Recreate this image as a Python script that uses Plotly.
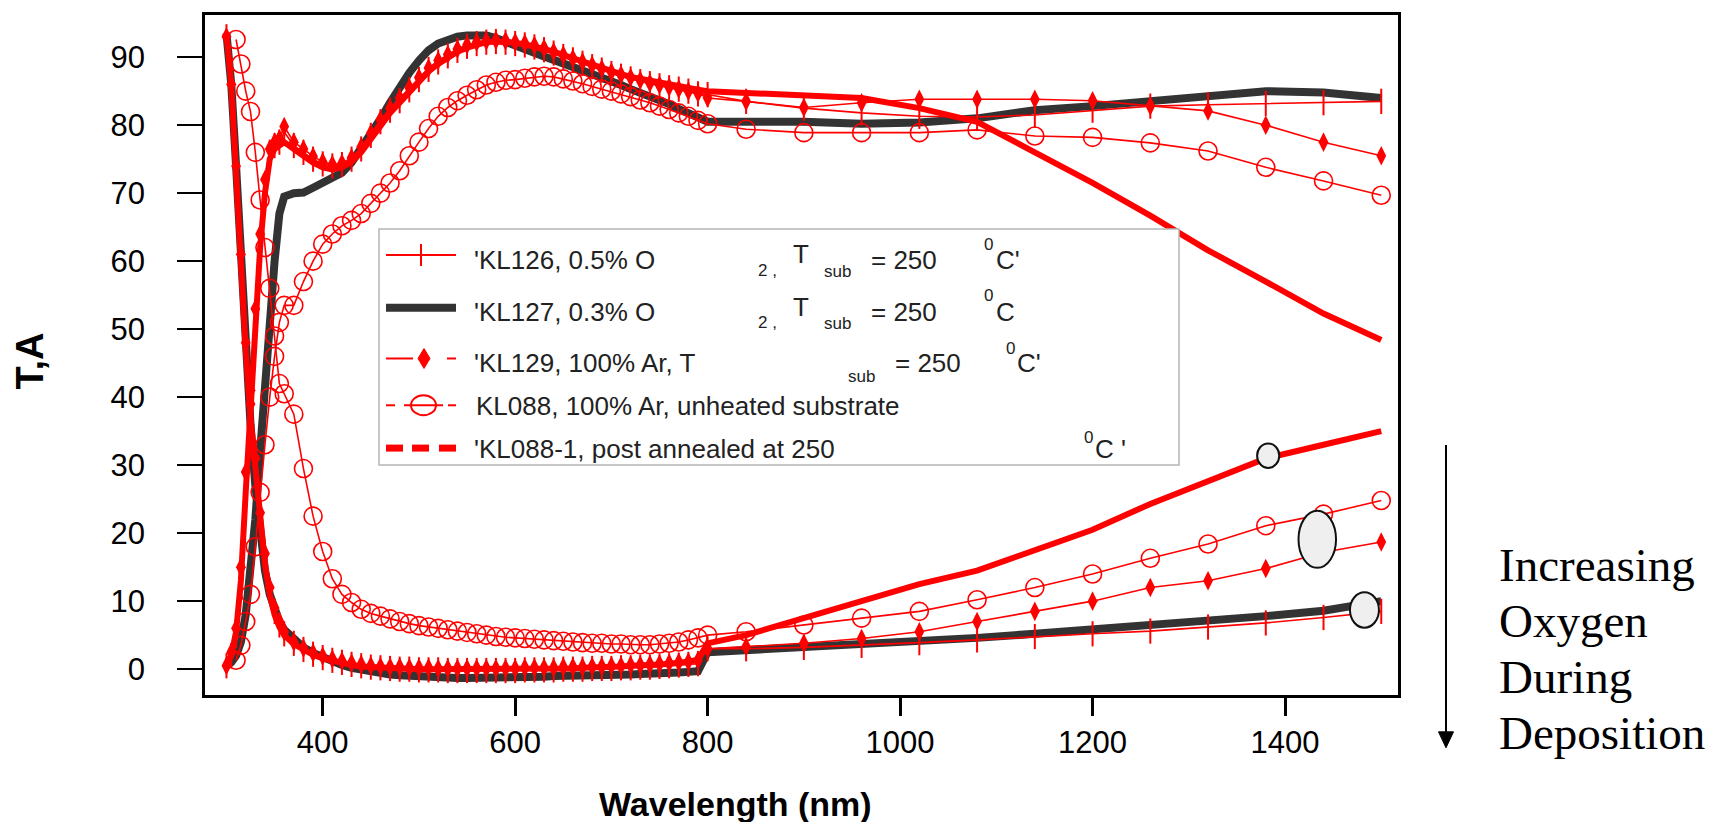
import plotly.graph_objects as go

# ---------------- data ----------------
wl_vis = [300, 305, 310, 315, 320, 325, 330, 335, 340, 345, 350, 355, 360,
          370, 380, 390, 400, 410, 420, 430, 440, 450,
          460, 470, 480, 490, 500, 510, 520, 530, 540, 550,
          560, 570, 580, 590, 600, 610, 620, 630, 640, 650,
          660, 670, 680, 690, 700, 710, 720, 730, 740, 750,
          760, 770, 780, 790]
wl_nir = [800, 840, 900, 960, 1020, 1080, 1140, 1200, 1260, 1320, 1380, 1440, 1500]

# KL127 (0.3% O2) - thick dark line
kl127_T_vis = [0.5, 1.0, 2.0, 4.0, 8.0, 14.0, 22.0, 32.0, 42.0, 50.0, 60.0, 67.0, 69.5,
               70.0, 70.1, 70.8, 71.6, 72.2, 73.0, 74.5, 76.5, 78.7,
               80.9, 83.3, 85.6, 87.7, 89.5, 91.0, 92.0, 92.6, 93.0, 93.2,
               93.3, 93.2, 92.8, 92.2, 91.6, 91.1, 90.6, 90.1, 89.6, 89.1,
               88.6, 88.1, 87.7, 87.1, 86.5, 85.9, 85.3, 84.8, 84.2, 83.6,
               83.1, 82.4, 81.7, 81.0]
kl127_T_nir = [80.5, 80.5, 80.5, 80.2, 80.4, 81.0, 82.2, 82.8, 83.6, 84.3, 85.0, 84.8, 84.0]
kl127_A_vis = [93.5, 86.0, 74.0, 60.0, 47.0, 36.0, 27.0, 20.0, 14.5, 11.0, 8.5, 7.0, 5.8,
               4.3, 3.2, 2.4, 1.7, 1.1, 0.6, 0.2, -0.1, -0.4,
               -0.6, -0.8, -0.9, -1.0, -1.1, -1.2, -1.3, -1.3, -1.3, -1.3,
               -1.3, -1.3, -1.2, -1.2, -1.2, -1.1, -1.1, -1.1, -1.0, -1.0,
               -1.0, -0.9, -0.9, -0.9, -0.8, -0.8, -0.8, -0.7, -0.7, -0.6,
               -0.6, -0.5, -0.4, -0.3]
kl127_A_nir = [2.5, 2.8, 3.0, 3.5, 4.0, 4.6, 5.2, 5.8, 6.5, 7.0, 7.8, 8.6, 10.0]

# KL088-1 (post annealed) - thick red
kl0881_T_vis = [0.5, 2.0, 5.5, 13.0, 26.0, 39.0, 51.0, 62.0, 70.0, 75.0, 76.5, 77.0, 77.5,
                76.5, 75.5, 74.5, 73.8, 73.5, 73.8, 74.6, 76.0, 78.0,
                80.0, 81.8, 83.3, 84.9, 86.4, 87.9, 89.0, 90.0, 90.8, 91.4,
                91.9, 92.2, 92.3, 92.3, 92.1, 91.9, 91.6, 91.2, 90.8, 90.3,
                89.8, 89.3, 88.8, 88.3, 87.9, 87.5, 87.1, 86.8, 86.5, 86.2,
                86.0, 85.7, 85.5, 85.2]
kl0881_T_nir = [85.0, 84.8, 84.5, 84.0, 82.5, 80.5, 76.0, 71.5, 66.7, 61.6, 57.0, 52.3, 48.4]
kl0881_A_vis = [93.5, 86.0, 73.0, 59.0, 47.0, 37.0, 29.0, 21.5, 15.5, 11.0, 8.0, 6.2, 5.0,
                3.7, 2.8, 2.1, 1.6, 1.2, 0.9, 0.6, 0.4, 0.3,
                0.2, 0.1, 0.1, 0.0, 0.0, 0.0, 0.0, -0.1, -0.1, -0.1,
                -0.1, -0.1, -0.1, -0.1, 0.0, 0.0, 0.0, 0.0, 0.1, 0.1,
                0.1, 0.2, 0.2, 0.3, 0.3, 0.4, 0.5, 0.5, 0.6, 0.7,
                0.8, 0.9, 1.1, 1.4]
kl0881_A_nir = [3.8, 5.0, 7.5, 10.0, 12.5, 14.5, 17.5, 20.5, 24.3, 27.7, 31.0, 33.0, 35.0]

# KL088 (unheated) - open circles, starts at 310 nm
kl088_T_vis = [1.3, 3.5, 7.0, 11.0, 18.0, 26.0, 33.0, 40.0, 46.0, 51.0, 53.5,
               53.5, 57.0, 60.0, 62.5, 64.0, 65.2, 66.0, 67.0, 68.5,
               70.0, 71.5, 73.3, 75.5, 77.5, 79.5, 81.3, 82.6, 83.6, 84.4,
               85.2, 85.9, 86.3, 86.6, 86.7, 86.9, 87.1, 87.2, 87.1, 86.8,
               86.5, 86.1, 85.7, 85.3, 85.0, 84.6, 84.2, 83.7, 83.3, 82.8,
               82.3, 81.8, 81.3, 80.7]
kl088_T_nir = [80.2, 79.4, 78.9, 78.9, 78.9, 79.3, 78.4, 78.2, 77.4, 76.2, 73.8, 71.8, 69.7]
kl088_A_vis = [92.6, 89.0, 85.0, 82.0, 76.0, 69.0, 62.0, 56.0, 49.0, 42.0, 40.5,
               37.5, 29.5, 22.5, 17.3, 13.3, 11.0, 9.8, 8.8, 8.2,
               7.8, 7.4, 7.0, 6.7, 6.4, 6.2, 6.0, 5.8, 5.6, 5.4,
               5.2, 5.0, 4.8, 4.7, 4.6, 4.5, 4.4, 4.3, 4.2, 4.1,
               4.0, 3.9, 3.8, 3.8, 3.7, 3.7, 3.6, 3.6, 3.6, 3.7,
               3.8, 4.0, 4.3, 4.6]
kl088_A_nir = [5.0, 5.5, 6.5, 7.5, 8.5, 10.2, 12.0, 14.0, 16.3, 18.4, 21.1, 22.8, 24.8]

# KL129 (100% Ar, 250 C) - diamonds
kl129_T_vis = [0.5, 2.5, 6.0, 15.0, 29.0, 41.0, 53.0, 64.0, 72.0, 76.5, 77.5, 78.0, 79.8,
               77.5, 76.5, 75.4, 74.6, 74.2, 74.4, 75.2, 76.8, 78.8,
               80.8, 82.5, 84.0, 85.5, 87.0, 88.4, 89.5, 90.4, 91.2, 91.8,
               92.2, 92.4, 92.5, 92.4, 92.2, 92.0, 91.7, 91.3, 90.8, 90.3,
               89.8, 89.3, 88.8, 88.3, 87.8, 87.4, 87.0, 86.6, 86.2, 85.9,
               85.6, 85.3, 85.0, 84.7]
kl129_T_nir = [84.0, 83.5, 82.6, 83.3, 83.8, 83.8, 83.8, 83.6, 82.8, 82.1, 80.0, 77.5, 75.5]
kl129_A_vis = [93.0, 86.0, 74.0, 61.0, 48.0, 39.0, 31.0, 23.0, 17.0, 12.0, 9.0, 7.0, 5.5,
               4.0, 3.1, 2.4, 1.9, 1.5, 1.2, 0.9, 0.7, 0.5,
               0.4, 0.3, 0.3, 0.2, 0.2, 0.2, 0.1, 0.1, 0.1, 0.1,
               0.1, 0.1, 0.1, 0.1, 0.1, 0.2, 0.2, 0.2, 0.2, 0.3,
               0.3, 0.3, 0.4, 0.4, 0.5, 0.5, 0.6, 0.6, 0.7, 0.8,
               0.9, 1.0, 1.1, 1.3]
kl129_A_nir = [3.0, 3.3, 3.8, 4.5, 5.5, 7.0, 8.5, 10.0, 12.0, 13.0, 14.8, 17.2, 18.7]

# KL126 (0.5% O2) - plus ticks
kl126_T_vis = [0.5, 2.0, 5.0, 14.0, 28.0, 40.0, 52.0, 63.0, 71.0, 76.0, 77.0, 77.5, 79.0,
               77.0, 76.0, 75.0, 74.3, 74.0, 74.2, 75.0, 76.5, 78.5,
               80.5, 82.2, 83.6, 85.2, 86.7, 88.2, 89.3, 90.2, 91.0, 91.6,
               92.0, 92.2, 92.3, 92.2, 92.0, 91.8, 91.5, 91.1, 90.6, 90.1,
               89.6, 89.1, 88.6, 88.1, 87.6, 87.2, 86.8, 86.4, 86.1, 85.8,
               85.5, 85.3, 85.0, 84.6]
kl126_T_nir = [84.5, 83.5, 82.5, 81.8, 81.3, 81.2, 81.5, 82.2, 82.8, 83.0, 83.2, 83.3, 83.5]
kl126_A_vis = [93.0, 85.0, 72.0, 58.0, 46.0, 38.0, 30.0, 22.0, 16.0, 11.5, 8.5, 6.5, 5.2,
               3.8, 2.9, 2.2, 1.7, 1.3, 1.0, 0.7, 0.5, 0.3,
               0.2, 0.1, 0.0, 0.0, -0.1, -0.1, -0.1, -0.2, -0.2, -0.2,
               -0.2, -0.2, -0.2, -0.2, -0.2, -0.1, -0.1, -0.1, -0.1, 0.0,
               0.0, 0.0, 0.1, 0.1, 0.1, 0.2, 0.2, 0.3, 0.3, 0.4,
               0.5, 0.6, 0.7, 0.8]
kl126_A_nir = [3.0, 3.0, 3.2, 3.5, 3.9, 4.3, 4.8, 5.2, 5.6, 6.2, 6.8, 7.6, 8.5]

x_ticks = [400, 600, 800, 1000, 1200, 1400]
y_ticks = [0, 10, 20, 30, 40, 50, 60, 70, 80, 90]

# ---------------- layout geometry (pixels) ----------------
W, H = 1711, 822
L, R, T, B = 205, 1398, 12, 695
RED = "#ff0000"
DARK = "#333333"
FONT = "Liberation Sans"
PAD = "\u00a0\u00a0\u00a0"  # gap between y tick labels and ticks


def px(x):
    return (x - L) / (R - L)


def py(y):
    return (B - y) / (B - T)


fig = go.Figure()

wl_all = wl_vis + wl_nir
wl_088 = wl_vis[2:] + wl_nir


def add(x, y, color, width, mode="lines", marker=None):
    fig.add_trace(go.Scatter(x=x, y=y, mode=mode, line=dict(color=color, width=width),
                             marker=marker, showlegend=False, hoverinfo="skip"))


# KL127 dark thick
add(wl_all, kl127_T_vis + kl127_T_nir, DARK, 8)
add(wl_all, kl127_A_vis + kl127_A_nir, DARK, 8)
# KL088-1 thick red
add(wl_all, kl0881_T_vis + kl0881_T_nir, RED, 6)
add(wl_all, kl0881_A_vis + kl0881_A_nir, RED, 6)
# KL088 circles
circ = dict(symbol="circle-open", size=18, color=RED, line=dict(width=1.6, color=RED))
add(wl_088, kl088_T_vis + kl088_T_nir, RED, 1.6, "lines+markers", circ)
add(wl_088, kl088_A_vis + kl088_A_nir, RED, 1.6, "lines+markers", circ)
# KL129 diamonds
dia = dict(symbol="diamond-tall", size=14, color=RED, line=dict(width=0))
add(wl_all, kl129_T_vis + kl129_T_nir, RED, 1.6, "lines+markers", dia)
add(wl_all, kl129_A_vis + kl129_A_nir, RED, 1.6, "lines+markers", dia)
# KL126 plus ticks
tick = dict(symbol="line-ns-open", size=18, color=RED, line=dict(width=2, color=RED))
add(wl_all, kl126_T_vis + kl126_T_nir, RED, 1.6, "lines+markers", tick)
add(wl_all, kl126_A_vis + kl126_A_nir, RED, 1.6, "lines+markers", tick)

shapes = []
# highlight ellipses (data coordinates)
for (x0, x1, y0, y1) in [(1371, 1394, 29.6, 33.2), (1414, 1453, 14.9, 23.3), (1467.5, 1497.6, 6.1, 11.3)]:
    shapes.append(dict(type="circle", xref="x", yref="y", x0=x0, x1=x1, y0=y0, y1=y1,
                       fillcolor="#efefef", line=dict(color="#111111", width=2), layer="above"))

# legend box
shapes.append(dict(type="rect", xref="paper", yref="paper", x0=px(379), x1=px(1179),
                   y0=py(464), y1=py(227), fillcolor="white",
                   line=dict(color="#b5b5b5", width=1.5), layer="above"))


def seg(x0, x1, y, color, width):
    shapes.append(dict(type="line", xref="paper", yref="paper", x0=px(x0), x1=px(x1),
                       y0=py(y), y1=py(y), line=dict(color=color, width=width), layer="above"))


rows = [253, 306, 357, 404, 447]
# row 1: line with vertical tick
seg(386, 456, rows[0], RED, 2)
shapes.append(dict(type="line", xref="paper", yref="paper", x0=px(421), x1=px(421),
                   y0=py(rows[0] - 11), y1=py(rows[0] + 11), line=dict(color=RED, width=2), layer="above"))
# row 2: thick dark line
seg(386, 456, rows[1], DARK, 8)
# row 3: dash, diamond, dash
seg(386, 413, rows[2], RED, 2)
seg(447, 456, rows[2], RED, 2)
cx, cy = 424, rows[2]
shapes.append(dict(type="path", xref="paper", yref="paper",
                   path="M{},{} L{},{} L{},{} L{},{} Z".format(px(cx), py(cy - 10), px(cx + 6), py(cy),
                                                               px(cx), py(cy + 10), px(cx - 6), py(cy)),
                   fillcolor=RED, line=dict(color=RED, width=1), layer="above"))
# row 4: dash, circle with line, dash
seg(386, 395, rows[3], RED, 2)
seg(404, 443, rows[3], RED, 2)
seg(448, 456, rows[3], RED, 2)
shapes.append(dict(type="circle", xref="paper", yref="paper", x0=px(411), x1=px(436),
                   y0=py(rows[3] + 10), y1=py(rows[3] - 10), line=dict(color=RED, width=2), layer="above"))
# row 5: thick dashed red
for a, b in [(386, 403), (412, 429), (439, 456)]:
    seg(a, b, rows[4], RED, 7)

# arrow on the right
shapes.append(dict(type="line", xref="paper", yref="paper", x0=px(1446), x1=px(1446),
                   y0=py(444), y1=py(733), line=dict(color="black", width=2), layer="above"))
shapes.append(dict(type="path", xref="paper", yref="paper",
                   path="M{},{} L{},{} L{},{} Z".format(px(1438.5), py(732), px(1453.5), py(732),
                                                        px(1446), py(748)),
                   fillcolor="black", line=dict(color="black", width=1), layer="above"))

annotations = []


def txt(text, x, y, size=26, anchor="left", color="#222222", family=FONT, angle=0):
    annotations.append(dict(text=text, xref="paper", yref="paper", x=px(x), y=py(y),
                            xanchor=anchor, yanchor="middle", showarrow=False, textangle=angle,
                            font=dict(family=family, size=size, color=color)))


SUB = 17
# legend row 1
txt("'KL126, 0.5% O", 472, 258)
txt("2 ,", 756, 269, SUB)
txt("T", 791, 252)
txt("sub", 822, 270, SUB)
txt("= 250", 869, 258)
txt("0", 982, 243, SUB)
txt("C'", 994, 258)
# legend row 2
txt("'KL127, 0.3% O", 472, 310)
txt("2 ,", 756, 321, SUB)
txt("T", 791, 305)
txt("sub", 822, 322, SUB)
txt("= 250", 869, 310)
txt("0", 982, 294, SUB)
txt("C", 994, 310)
# legend row 3
txt("'KL129, 100% Ar, T", 472, 362)
txt("sub", 846, 375, SUB)
txt("= 250", 893, 362)
txt("0", 1004, 347, SUB)
txt("C'", 1015, 362)
# legend row 4
txt("KL088, 100% Ar, unheated substrate", 474, 405)
# legend row 5
txt("'KL088-1, post annealed at 250", 472, 448)
txt("0", 1082, 436, SUB)
txt("C '", 1093, 448)

# axis titles
txt("<b>T,A</b>", 30, 360, 38, anchor="center", color="black", angle=-90)
txt("<b>Wavelength (nm)</b>", 735, 804, 34, anchor="center", color="black")

# right-hand note
for s, yy in [("Increasing", 564), ("Oxygen", 621), ("During", 677), ("Deposition", 733)]:
    txt(s, 1497, yy, 47, color="black", family="Liberation Serif")

fig.update_layout(
    width=W, height=H,
    margin=dict(l=L, r=W - R, t=T, b=H - B),
    paper_bgcolor="white", plot_bgcolor="white",
    shapes=shapes, annotations=annotations, showlegend=False,
    xaxis=dict(range=[277.7, 1517.4], tickvals=x_ticks, ticktext=[str(v) for v in x_ticks],
               ticks="outside", ticklen=18, tickwidth=3, tickcolor="black",
               showline=True, linewidth=3, linecolor="black", mirror=True,
               showgrid=False, zeroline=False,
               tickfont=dict(family=FONT, size=31, color="black")),
    yaxis=dict(range=[-3.8, 96.2], tickvals=y_ticks, ticktext=[str(v) + PAD for v in y_ticks],
               ticks="outside", ticklen=25, tickwidth=2, tickcolor="black",
               showline=True, linewidth=3, linecolor="black", mirror=True,
               showgrid=False, zeroline=False,
               tickfont=dict(family=FONT, size=31, color="black")),
)

fig.write_html("out.html")
